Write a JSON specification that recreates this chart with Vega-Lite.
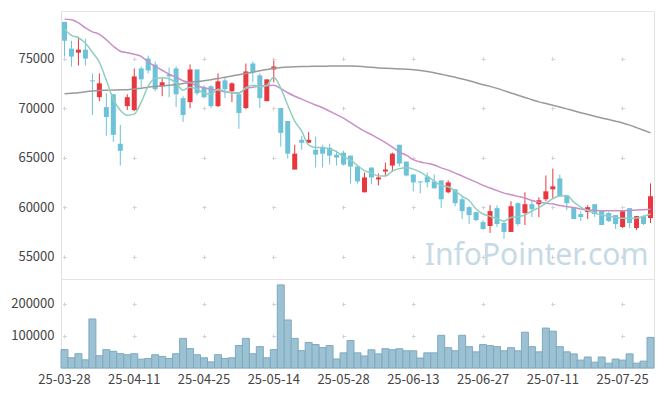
{
  "$schema": "https://vega.github.io/schema/vega-lite/v6.json",
  "padding": {"left": 10, "top": 10, "right": 10, "bottom": 0},
  "spacing": 0,
  "bounds": "flush",
  "config": {
    "view": {"stroke": "#e3e3e3"},
    "concat": {"spacing": 0},
    "axis": {"domain": false, "ticks": false, "title": null, "labelFont": "Noto Sans CJK KR", "labelFontSize": 13, "labelColor": "#444", "gridColor": "#d2d2d2", "gridWidth": 1}
  },
  "datasets": {
    "d": [
      {"date":"25-03-28","o":78700,"h":78700,"l":75200,"c":76800,"v":57400,"m5":77950,"m20":78980,"m60":71450},
      {"date":"25-03-31","o":76000,"h":76800,"l":74200,"c":75200,"v":31900,"m5":77350,"m20":78910,"m60":71500},
      {"date":"25-04-01","o":75600,"h":77200,"l":74300,"c":75900,"v":44700,"m5":77100,"m20":78610,"m60":71550},
      {"date":"25-04-02","o":75900,"h":77000,"l":74300,"c":75000,"v":25500,"m5":76540,"m20":78100,"m60":71650},
      {"date":"25-04-03","o":72800,"h":73500,"l":69300,"c":72700,"v":153200,"m5":75640,"m20":77700,"m60":71730},
      {"date":"25-04-04","o":71100,"h":73500,"l":70700,"c":72500,"v":38300,"m5":74630,"m20":77450,"m60":71780},
      {"date":"25-04-07","o":70100,"h":71500,"l":67200,"c":69100,"v":57400,"m5":72810,"m20":76900,"m60":71800},
      {"date":"25-04-08","o":71400,"h":71400,"l":66600,"c":67300,"v":52100,"m5":70900,"m20":76240,"m60":71830},
      {"date":"25-04-09","o":66400,"h":68300,"l":64200,"c":65700,"v":44700,"m5":69790,"m20":75740,"m60":71840},
      {"date":"25-04-10","o":70200,"h":71400,"l":69800,"c":71100,"v":41500,"m5":69290,"m20":75590,"m60":71860},
      {"date":"25-04-11","o":69800,"h":74000,"l":69700,"c":73200,"v":44700,"m5":69390,"m20":75430,"m60":71930},
      {"date":"25-04-14","o":74000,"h":74200,"l":72100,"c":72900,"v":27700,"m5":70600,"m20":75230,"m60":72010},
      {"date":"25-04-15","o":75000,"h":75300,"l":73500,"c":73800,"v":29800,"m5":72210,"m20":74630,"m60":72110},
      {"date":"25-04-16","o":74400,"h":74700,"l":71700,"c":71900,"v":41500,"m5":73010,"m20":74220,"m60":72180},
      {"date":"25-04-17","o":72200,"h":73000,"l":71200,"c":72600,"v":36200,"m5":73060,"m20":73820,"m60":72240},
      {"date":"25-04-18","o":73400,"h":74100,"l":71100,"c":73200,"v":29800,"m5":72960,"m20":73420,"m60":72310},
      {"date":"25-04-21","o":74000,"h":74200,"l":70100,"c":71400,"v":44700,"m5":72540,"m20":73120,"m60":72380},
      {"date":"25-04-22","o":71000,"h":71200,"l":68600,"c":69300,"v":92600,"m5":71800,"m20":72760,"m60":72480},
      {"date":"25-04-23","o":70600,"h":74400,"l":70000,"c":73900,"v":60600,"m5":72110,"m20":72560,"m60":72590},
      {"date":"25-04-24","o":73900,"h":73900,"l":71300,"c":71500,"v":41500,"m5":71910,"m20":72260,"m60":72680},
      {"date":"25-04-25","o":72100,"h":72300,"l":71000,"c":71100,"v":31900,"m5":71500,"m20":72060,"m60":72760},
      {"date":"25-04-28","o":72200,"h":72300,"l":70000,"c":70200,"v":19100,"m5":71400,"m20":71910,"m60":72860},
      {"date":"25-04-29","o":70200,"h":73500,"l":70100,"c":72700,"v":41500,"m5":71910,"m20":71800,"m60":72980},
      {"date":"25-04-30","o":72800,"h":73100,"l":71000,"c":71900,"v":29800,"m5":71700,"m20":71650,"m60":73120},
      {"date":"25-05-02","o":71700,"h":72600,"l":70600,"c":72500,"v":31900,"m5":71550,"m20":71550,"m60":73240},
      {"date":"25-05-07","o":71400,"h":71400,"l":67900,"c":69500,"v":70200,"m5":71500,"m20":71550,"m60":73370},
      {"date":"25-05-08","o":70000,"h":74500,"l":69900,"c":73700,"v":92600,"m5":72060,"m20":71960,"m60":73490},
      {"date":"25-05-09","o":74500,"h":74700,"l":72600,"c":73600,"v":44700,"m5":72310,"m20":72110,"m60":73620},
      {"date":"25-05-12","o":73300,"h":73500,"l":70000,"c":71000,"v":67000,"m5":72160,"m20":72210,"m60":73770},
      {"date":"25-05-13","o":70700,"h":72900,"l":70700,"c":72900,"v":31900,"m5":72310,"m20":72260,"m60":73900},
      {"date":"25-05-14","o":73900,"h":74800,"l":72600,"c":74200,"v":57400,"m5":73120,"m20":72310,"m60":74020},
      {"date":"25-05-15","o":70000,"h":70000,"l":66100,"c":67500,"v":259600,"m5":72010,"m20":71980,"m60":74090},
      {"date":"25-05-16","o":68700,"h":68700,"l":64900,"c":65400,"v":150000,"m5":70290,"m20":71550,"m60":74140},
      {"date":"25-05-19","o":63800,"h":66300,"l":63800,"c":65400,"v":92600,"m5":68680,"m20":71200,"m60":74170},
      {"date":"25-05-20","o":66800,"h":67200,"l":65800,"c":66500,"v":54300,"m5":67670,"m20":70900,"m60":74190},
      {"date":"25-05-21","o":66500,"h":67600,"l":66500,"c":66800,"v":79800,"m5":66260,"m20":70600,"m60":74210},
      {"date":"25-05-22","o":65800,"h":67100,"l":64000,"c":65300,"v":73400,"m5":66030,"m20":70310,"m60":74220},
      {"date":"25-05-23","o":66000,"h":66300,"l":64000,"c":65400,"v":63800,"m5":66030,"m20":70040,"m60":74230},
      {"date":"25-05-26","o":66000,"h":66400,"l":64300,"c":65200,"v":70000,"m5":65860,"m20":69690,"m60":74240},
      {"date":"25-05-27","o":65300,"h":65700,"l":64200,"c":65000,"v":28300,"m5":65610,"m20":69340,"m60":74250},
      {"date":"25-05-28","o":65500,"h":65700,"l":64200,"c":64300,"v":47300,"m5":65080,"m20":68980,"m60":74250},
      {"date":"25-05-29","o":65200,"h":65200,"l":62400,"c":64100,"v":86000,"m5":64750,"m20":68530,"m60":74240},
      {"date":"25-05-30","o":64100,"h":64100,"l":62400,"c":62600,"v":47300,"m5":64200,"m20":68080,"m60":74220},
      {"date":"25-06-02","o":61500,"h":63500,"l":61500,"c":63000,"v":37600,"m5":63690,"m20":67670,"m60":74170},
      {"date":"25-06-04","o":64000,"h":64000,"l":62300,"c":63000,"v":57000,"m5":63440,"m20":67320,"m60":74120},
      {"date":"25-06-05","o":62800,"h":63400,"l":62200,"c":63000,"v":44100,"m5":63140,"m20":66920,"m60":74050},
      {"date":"25-06-09","o":63600,"h":64500,"l":63100,"c":63800,"v":60200,"m5":63140,"m20":66510,"m60":74020},
      {"date":"25-06-10","o":64200,"h":65500,"l":63600,"c":65400,"v":57000,"m5":63640,"m20":66060,"m60":73990},
      {"date":"25-06-11","o":66300,"h":66300,"l":64100,"c":64400,"v":60200,"m5":63890,"m20":65560,"m60":73950},
      {"date":"25-06-12","o":64600,"h":64600,"l":63100,"c":63200,"v":53800,"m5":63970,"m20":65250,"m60":73920},
      {"date":"25-06-13","o":63300,"h":63300,"l":61600,"c":62500,"v":53800,"m5":63840,"m20":64800,"m60":73880},
      {"date":"25-06-16","o":62600,"h":62600,"l":61400,"c":62500,"v":31200,"m5":63540,"m20":64550,"m60":73800},
      {"date":"25-06-17","o":63100,"h":63500,"l":62000,"c":62500,"v":47300,"m5":63110,"m20":64420,"m60":73700},
      {"date":"25-06-18","o":62600,"h":63300,"l":61900,"c":61900,"v":47300,"m5":62630,"m20":64250,"m60":73570},
      {"date":"25-06-19","o":62700,"h":62700,"l":59900,"c":60800,"v":102200,"m5":62180,"m20":63970,"m60":73420},
      {"date":"25-06-20","o":61500,"h":62700,"l":61400,"c":62500,"v":63400,"m5":62060,"m20":63740,"m60":73270},
      {"date":"25-06-23","o":61800,"h":61800,"l":60100,"c":60400,"v":53800,"m5":61620,"m20":63440,"m60":73120},
      {"date":"25-06-24","o":60800,"h":61100,"l":58800,"c":59600,"v":102200,"m5":61120,"m20":63140,"m60":72930},
      {"date":"25-06-25","o":60000,"h":60100,"l":58300,"c":59200,"v":66700,"m5":60670,"m20":62830,"m60":72760},
      {"date":"25-06-26","o":59500,"h":59500,"l":58600,"c":58700,"v":50500,"m5":59810,"m20":62530,"m60":72560},
      {"date":"25-06-27","o":58500,"h":58700,"l":57700,"c":57800,"v":73100,"m5":59310,"m20":62200,"m60":72360},
      {"date":"25-06-30","o":58100,"h":60200,"l":57400,"c":59600,"v":69900,"m5":59080,"m20":61930,"m60":72190},
      {"date":"25-07-01","o":59900,"h":60200,"l":58000,"c":58300,"v":66700,"m5":58850,"m20":61670,"m60":71990},
      {"date":"25-07-02","o":58400,"h":58700,"l":56800,"c":57500,"v":53800,"m5":58600,"m20":61420,"m60":71760},
      {"date":"25-07-03","o":57500,"h":60600,"l":57500,"c":60100,"v":63400,"m5":58950,"m20":61250,"m60":71530},
      {"date":"25-07-04","o":60400,"h":60500,"l":58100,"c":58300,"v":53800,"m5":59050,"m20":61090,"m60":71300},
      {"date":"25-07-07","o":59400,"h":61500,"l":58200,"c":60300,"v":111800,"m5":59200,"m20":60920,"m60":71070},
      {"date":"25-07-08","o":60300,"h":60700,"l":59000,"c":59800,"v":66700,"m5":59610,"m20":60670,"m60":70850},
      {"date":"25-07-09","o":60300,"h":61000,"l":59000,"c":60700,"v":50500,"m5":59960,"m20":60510,"m60":70630},
      {"date":"25-07-10","o":60800,"h":63200,"l":60600,"c":61600,"v":124700,"m5":60380,"m20":60410,"m60":70460},
      {"date":"25-07-11","o":61800,"h":63900,"l":60900,"c":62100,"v":115100,"m5":60870,"m20":60310,"m60":70290},
      {"date":"25-07-14","o":62900,"h":63300,"l":61100,"c":61100,"v":66700,"m5":61120,"m20":60160,"m60":70110},
      {"date":"25-07-15","o":61200,"h":61200,"l":59700,"c":60400,"v":50500,"m5":61170,"m20":60060,"m60":69920},
      {"date":"25-07-16","o":60000,"h":60000,"l":58800,"c":58800,"v":44100,"m5":60510,"m20":59960,"m60":69730},
      {"date":"25-07-17","o":59300,"h":59600,"l":58600,"c":59000,"v":24700,"m5":60010,"m20":59810,"m60":69540},
      {"date":"25-07-18","o":59500,"h":60200,"l":58800,"c":60000,"v":34400,"m5":59660,"m20":59710,"m60":69360},
      {"date":"25-07-21","o":60300,"h":60300,"l":59000,"c":59300,"v":18300,"m5":59410,"m20":59680,"m60":69180},
      {"date":"25-07-22","o":59700,"h":59700,"l":58200,"c":58200,"v":34400,"m5":59200,"m20":59640,"m60":69010},
      {"date":"25-07-23","o":59400,"h":59500,"l":58500,"c":58600,"v":15100,"m5":59100,"m20":59630,"m60":68850},
      {"date":"25-07-24","o":59200,"h":59200,"l":57800,"c":58300,"v":28000,"m5":58970,"m20":59630,"m60":68680},
      {"date":"25-07-25","o":58000,"h":59700,"l":57900,"c":59600,"v":24700,"m5":58870,"m20":59640,"m60":68500},
      {"date":"25-07-28","o":59900,"h":59900,"l":57900,"c":58400,"v":44100,"m5":58870,"m20":59680,"m60":68280},
      {"date":"25-07-29","o":57900,"h":59100,"l":57700,"c":59100,"v":15100,"m5":58900,"m20":59710,"m60":68030},
      {"date":"25-07-30","o":59100,"h":59200,"l":58200,"c":58300,"v":21500,"m5":59050,"m20":59740,"m60":67770},
      {"date":"25-07-31","o":58900,"h":62400,"l":58400,"c":61100,"v":95700,"m5":59310,"m20":59780,"m60":67500}
    ]
  },
  "resolve": {"scale": {"x": "shared"}},
  "vconcat": [
    {
      "width": 593,
      "height": 268,
      "layer": [
        {
          "data": {"values": [{"label": "InfoPointer.com"}]},
          "mark": {"type": "text", "align": "right", "baseline": "middle", "font": "Noto Sans", "fontSize": 30, "color": "#c6dae5", "dx": -2},
          "encoding": {
            "x": {"datum": "25-07-31", "type": "ordinal"},
            "y": {"datum": 55100, "type": "quantitative"},
            "text": {"field": "label"}
          }
        },
        {
          "data": {"name": "d"},
          "mark": {"type": "rule", "strokeWidth": 1},
          "encoding": {
            "x": {"field": "date", "type": "ordinal", "scale": {"type": "band", "paddingInner": 0, "paddingOuter": 0},
              "axis": {"labels": false, "labelPadding": 0, "minExtent": 0, "maxExtent": 0, "grid": true, "values": ["25-03-28","25-04-11","25-04-25","25-05-14","25-05-28","25-06-13","25-06-27","25-07-11","25-07-25"], "gridDash": [0,45.56,4,45.54,4,45.54,4,45.54,4,45.54,4,1000]}},
            "y": {"field": "l", "type": "quantitative", "scale": {"domain": [52750, 79800], "zero": false, "nice": false},
              "axis": {"values": [55000, 60000, 65000, 70000, 75000], "format": "d", "labelPadding": 7, "grid": true, "gridDash": [0,1.5,4,65.76,4,65.76,4,65.76,4,65.76,4,65.76,4,65.76,4,65.76,4,65.76,4,1000]}},
            "y2": {"field": "h"},
            "color": {"condition": {"test": "datum.c > datum.o", "value": "#e8373e"}, "value": "#6cc2d9"}
          }
        },
        {
          "data": {"name": "d"},
          "mark": {"type": "bar", "size": 5},
          "encoding": {
            "x": {"field": "date", "type": "ordinal"},
            "y": {"field": "o", "type": "quantitative"},
            "y2": {"field": "c"},
            "color": {"condition": {"test": "datum.c > datum.o", "value": "#e8373e"}, "value": "#6cc2d9"}
          }
        },
        {
          "data": {"name": "d"},
          "mark": {"type": "line", "color": "#9a9a9a", "strokeWidth": 1.5, "interpolate": "monotone"},
          "encoding": {"x": {"field": "date", "type": "ordinal"}, "y": {"field": "m60", "type": "quantitative"}}
        },
        {
          "data": {"name": "d"},
          "mark": {"type": "line", "color": "#c98fc6", "strokeWidth": 1.5, "interpolate": "monotone"},
          "encoding": {"x": {"field": "date", "type": "ordinal"}, "y": {"field": "m20", "type": "quantitative"}}
        },
        {
          "data": {"name": "d"},
          "mark": {"type": "line", "color": "#8ecfbf", "strokeWidth": 1.5, "interpolate": "monotone"},
          "encoding": {"x": {"field": "date", "type": "ordinal"}, "y": {"field": "m5", "type": "quantitative"}}
        }
      ]
    },
    {
      "width": 593,
      "height": 89,
      "data": {"name": "d"},
      "mark": {"type": "bar", "fill": "#9cc1d2", "stroke": "#7eaac0", "strokeWidth": 1},
      "encoding": {
        "x": {"field": "date", "type": "ordinal",
          "axis": {"labelAngle": 0, "labelPadding": 5, "grid": true, "values": ["25-03-28","25-04-11","25-04-25","25-05-14","25-05-28","25-06-13","25-06-27","25-07-11","25-07-25"], "gridDash": [0,22.97,4,28.02,4,1000]}},
        "y": {"field": "v", "type": "quantitative", "scale": {"domain": [0, 278000], "nice": false},
          "axis": {"values": [100000, 200000], "format": "d", "labelPadding": 7, "grid": true, "gridDash": [0,1.5,4,65.76,4,65.76,4,65.76,4,65.76,4,65.76,4,65.76,4,65.76,4,65.76,4,1000]}}
      }
    }
  ]
}
